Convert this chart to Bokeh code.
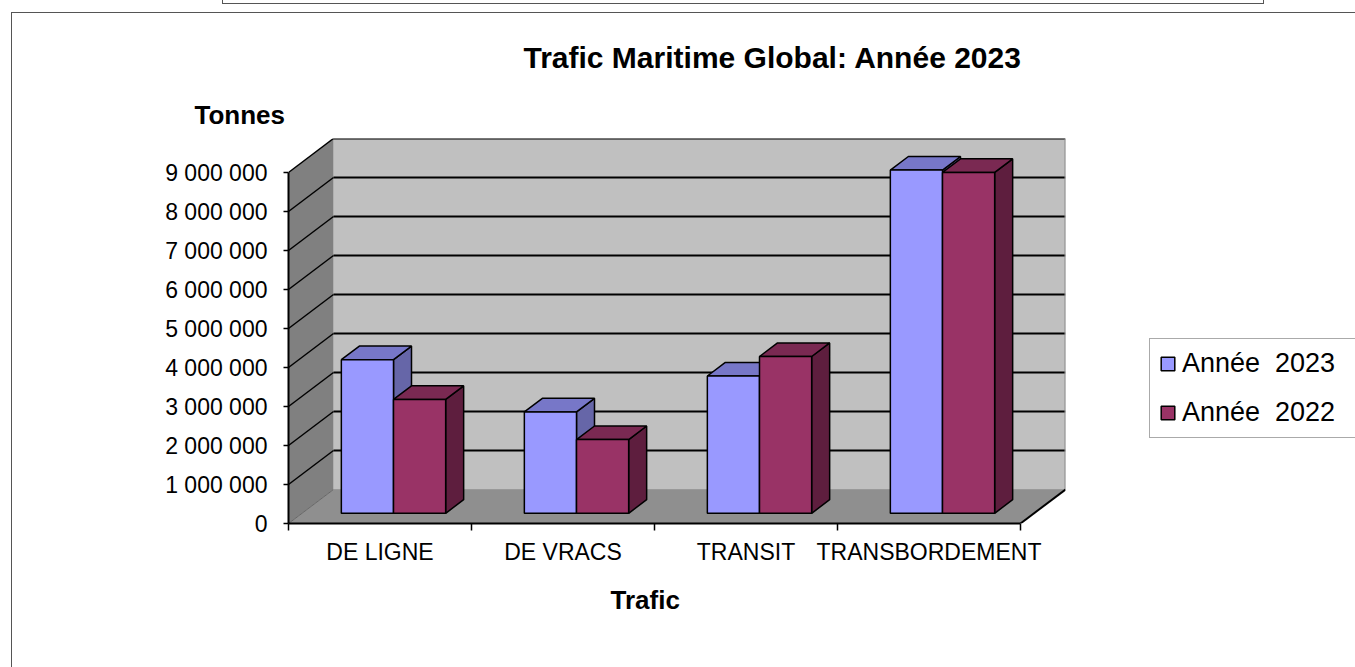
from bokeh.plotting import figure
from bokeh.models import (ColumnDataSource, FixedTicker, Legend, LegendItem,
                          LinearAxis, Range1d, Title)
from bokeh.core.properties import value
from bokeh.embed import file_html
from bokeh.resources import INLINE

# ---------------- data ----------------
CATEGORIES = ["DE LIGNE", "DE VRACS", "TRANSIT", "TRANSBORDEMENT"]
SERIES_NAMES = ["Année  2023", "Année  2022"]
VALUES_2023 = [3_940_000, 2_600_000, 3_520_000, 8_800_000]
VALUES_2022 = [2_920_000, 1_890_000, 4_020_000, 8_740_000]
Y_TICKS = [0, 1_000_000, 2_000_000, 3_000_000, 4_000_000, 5_000_000,
           6_000_000, 7_000_000, 8_000_000, 9_000_000]
Y_TICK_LABELS = ["0", "1 000 000", "2 000 000", "3 000 000", "4 000 000",
                 "5 000 000", "6 000 000", "7 000 000", "8 000 000", "9 000 000"]
TITLE = "Trafic Maritime Global: Année 2023"
Y_TITLE = "Tonnes"
X_TITLE = "Trafic"

# ---------------- style ----------------
FONT = "Liberation Sans"
FRONT = ["#9999FF", "#993366"]
TOP = ["#7777C8", "#7A2952"]
SIDE = ["#6666A8", "#5E1E3E"]

n = len(CATEGORIES)
ymax = Y_TICKS[-1]
FW, FH = 777, 385
DX = 45 / 183            # depth shift in category units
DY = ymax * 34 / 351     # depth shift in value units
BAR_W = 0.285
F_OFF = 0.3              # bar front plane, fraction of depth
G_DEP = 0.4              # bar depth, fraction of depth

p = figure(frame_width=FW, frame_height=FH, title=None,
           x_range=Range1d(0, n + DX), y_range=Range1d(0, ymax + DY),
           x_axis_type=None, y_axis_type=None,
           min_border_left=288, min_border_right=290,
           min_border_top=138, min_border_bottom=144,
           output_backend="svg", toolbar_location=None)
p.outline_line_color = None
p.grid.visible = False
p.background_fill_color = None
p.border_fill_color = None
LC = "#555"
p.styles = {
    "background": (
        f"linear-gradient({LC},{LC}) 11px 12px / 1px calc(100% - 12px) no-repeat, "
        f"linear-gradient({LC},{LC}) 11px 12px / calc(100% - 11px) 1px no-repeat, "
        f"linear-gradient({LC},{LC}) 222px 3px / 1042px 1px no-repeat, "
        f"linear-gradient({LC},{LC}) 222px 0px / 1px 4px no-repeat, "
        f"linear-gradient({LC},{LC}) 1263px 0px / 1px 4px no-repeat, white")
}

# walls and floor
p.patch([DX, n + DX, n + DX, DX], [DY, DY, ymax + DY, ymax + DY],
        fill_color="#C0C0C0", line_color=None)
p.patch([0, DX, DX, 0], [0, DY, ymax + DY, ymax], fill_color="#808080", line_color=None)
p.patch([0, n, n + DX, DX], [0, 0, DY, DY], fill_color="#8F8F8F", line_color=None)

grid = Y_TICKS[1:]
p.segment(x0=[DX] * len(grid), y0=[t + DY for t in grid],
          x1=[n + DX] * len(grid), y1=[t + DY for t in grid],
          line_color="black", line_width=2)
p.segment(x0=[0] * len(grid), y0=grid, x1=[DX] * len(grid), y1=[t + DY for t in grid],
          line_color="black", line_width=1.5)
p.segment(x0=[0], y0=[0], x1=[DX], y1=[DY], line_color="#666666", line_width=1)
p.segment(x0=[DX], y0=[DY], x1=[n + DX], y1=[DY], line_color="#999999", line_width=1)
p.segment(x0=[n + DX], y0=[DY], x1=[n + DX], y1=[ymax + DY], line_color="#8A8A8A", line_width=2)
p.segment(x0=[n], y0=[0], x1=[n + DX], y1=[DY], line_color="black", line_width=2)

# bars
fdx, fdy = F_OFF * DX, F_OFF * DY
bdx, bdy = (F_OFF + G_DEP) * DX, (F_OFF + G_DEP) * DY
front_renderers = []
for s, vals in enumerate([VALUES_2023, VALUES_2022]):
    x0 = [i + 0.5 - BAR_W + s * BAR_W for i in range(n)]
    src = ColumnDataSource(dict(
        left=[a + fdx for a in x0], right=[a + BAR_W + fdx for a in x0],
        bottom=[fdy] * n, top=[v + fdy for v in vals]))
    side_xs = [[a + BAR_W + fdx, a + BAR_W + bdx, a + BAR_W + bdx, a + BAR_W + fdx] for a in x0]
    side_ys = [[fdy, bdy, v + bdy, v + fdy] for v in vals]
    top_xs = [[a + fdx, a + BAR_W + fdx, a + BAR_W + bdx, a + bdx] for a in x0]
    top_ys = [[v + fdy, v + fdy, v + bdy, v + bdy] for v in vals]
    p.patches(side_xs, side_ys, fill_color=SIDE[s], line_color="black", line_width=1.5)
    p.patches(top_xs, top_ys, fill_color=TOP[s], line_color="black", line_width=1.5)
    r = p.quad(left="left", right="right", bottom="bottom", top="top", source=src,
               fill_color=FRONT[s], line_color="black", line_width=1.5)
    front_renderers.append(r)

# axes
yaxis = LinearAxis(ticker=FixedTicker(ticks=Y_TICKS, minor_ticks=[]), bounds=(0, ymax),
                   major_label_overrides={t: l for t, l in zip(Y_TICKS, Y_TICK_LABELS)},
                   axis_line_width=2, axis_line_color="black",
                   major_tick_out=5, major_tick_in=0, major_tick_line_width=1.5,
                   minor_tick_line_color=None, major_label_standoff=16,
                   major_label_text_font=FONT, major_label_text_font_size="23px",
                   major_label_text_color="black")
p.add_layout(yaxis, "left")

xaxis = LinearAxis(ticker=FixedTicker(ticks=[i + 0.5 for i in range(n)],
                                      minor_ticks=list(range(n + 1))),
                   bounds=(0, n),
                   major_label_overrides={i + 0.5: c for i, c in enumerate(CATEGORIES)},
                   axis_line_width=2, axis_line_color="black",
                   major_tick_line_color=None, major_tick_out=0, major_tick_in=0,
                   minor_tick_out=7, minor_tick_in=0, minor_tick_line_width=1.5,
                   minor_tick_line_color="black", major_label_standoff=8,
                   major_label_text_font=FONT, major_label_text_font_size="23px",
                   major_label_text_color="black")
p.add_layout(xaxis, "below")

# titles in side panels (first added = nearest to the frame)
p.add_layout(Title(text=Y_TITLE, align="left", offset=-94, standoff=18,
                   text_font=FONT, text_font_size="26px", text_font_style="bold",
                   text_color="black"), "above")
p.add_layout(Title(text=TITLE, align="left", offset=235, standoff=30,
                   text_font=FONT, text_font_size="30px", text_font_style="bold",
                   text_color="black"), "above")
p.add_layout(Title(text=X_TITLE, align="left", offset=322, standoff=30,
                   text_font=FONT, text_font_size="26px", text_font_style="bold",
                   text_color="black"), "below")

legend = Legend(items=[LegendItem(label=value(SERIES_NAMES[i]), renderers=[front_renderers[i]])
                       for i in range(2)],
                location=(84, 85), orientation="vertical",
                border_line_color="#555555", border_line_width=1,
                background_fill_color="white", background_fill_alpha=1,
                padding=9, spacing=18, label_height=30, label_width=200,
                glyph_height=17, glyph_width=17,
                label_standoff=6, label_text_font=FONT, label_text_font_size="27px",
                label_text_color="black", margin=0)
p.add_layout(legend, "right")

open("out.html", "w").write(file_html(p, INLINE))
